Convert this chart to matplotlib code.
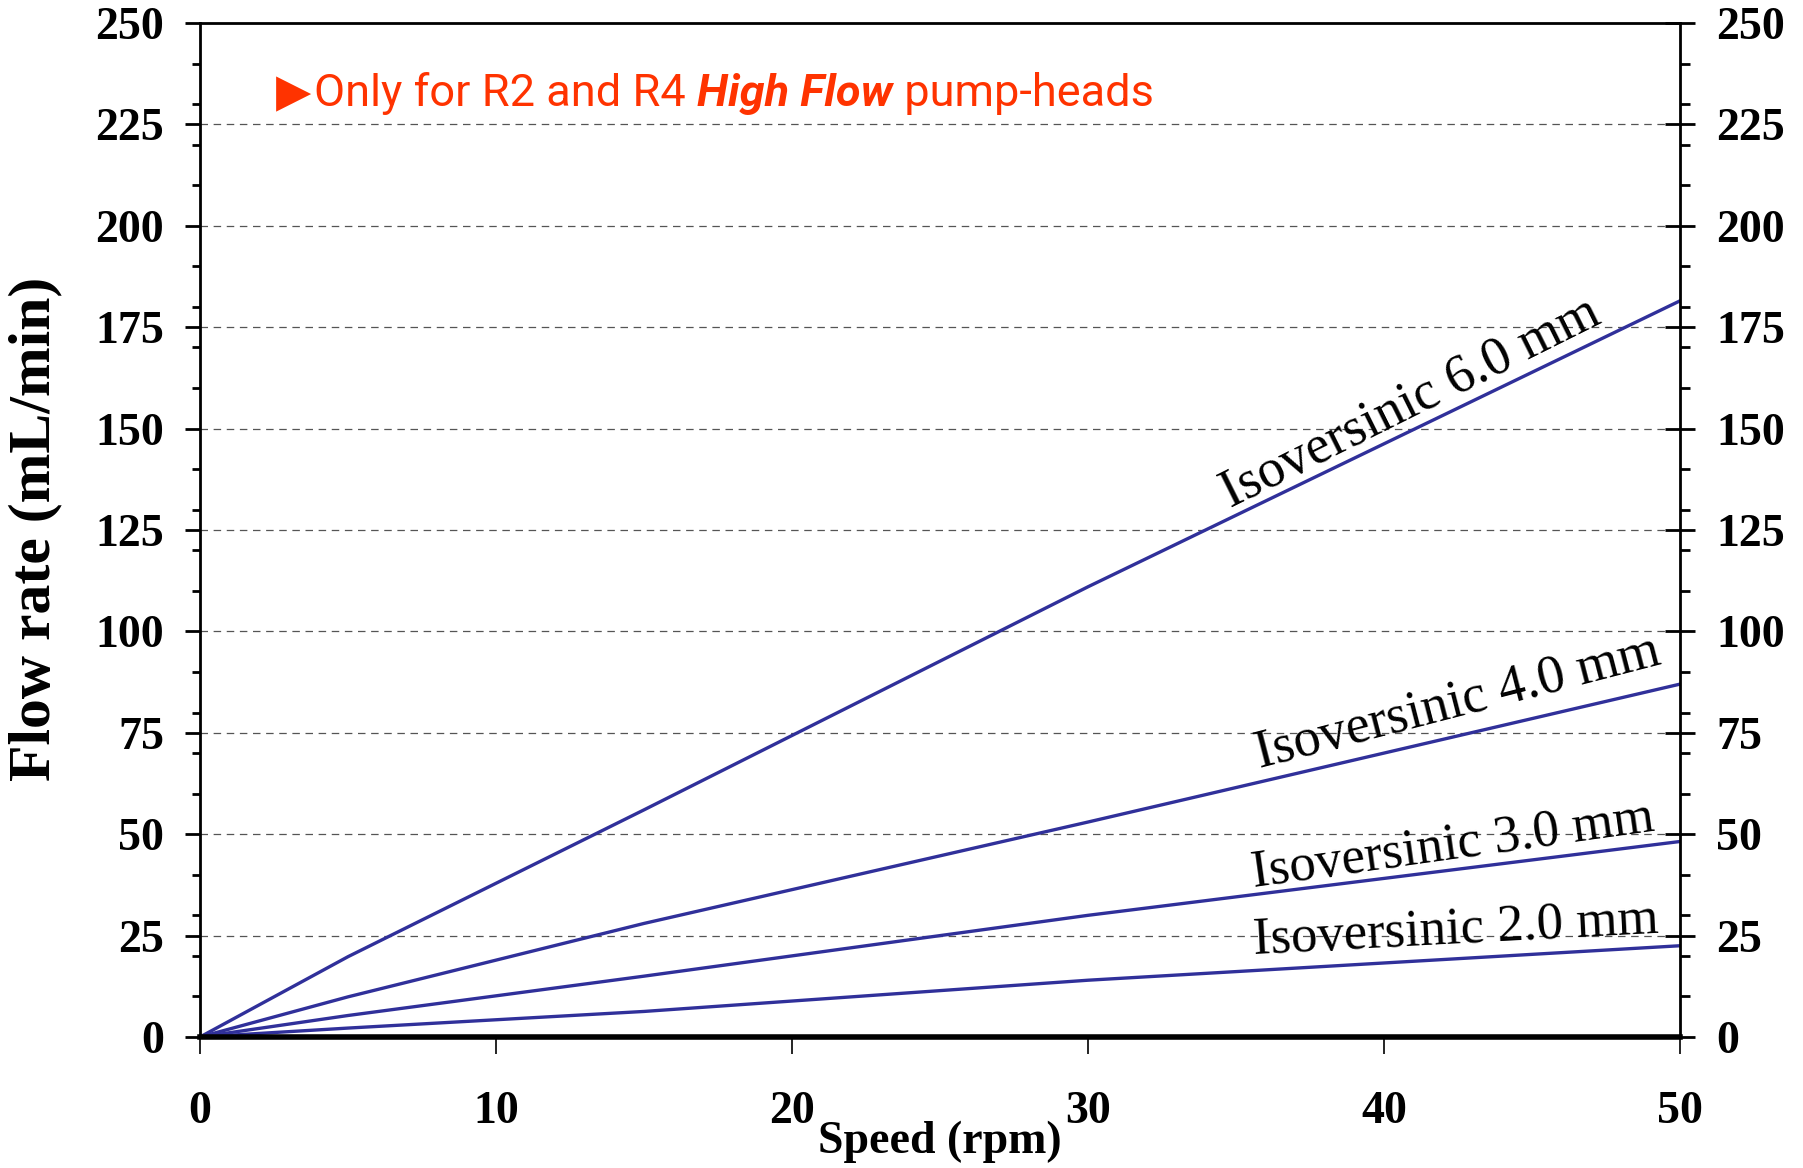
import matplotlib
matplotlib.use("Agg")
import matplotlib.pyplot as plt
from matplotlib.ticker import MultipleLocator

# ---- data ----
speed = [0, 5, 15, 30, 50]
flow_6mm = [0, 19.8, 56, 111, 181.5]
flow_4mm = [0, 9.9, 28, 53, 87]
flow_3mm = [0, 5.3, 15, 30, 48.2]
flow_2mm = [0, 2.2, 6.3, 14, 22.5]

series = [flow_6mm, flow_4mm, flow_3mm, flow_2mm]
labels = ["Isoversinic 6.0 mm", "Isoversinic 4.0 mm",
          "Isoversinic 3.0 mm", "Isoversinic 2.0 mm"]
label_pos = [(34.8, 130.5), (35.8, 66.3), (35.6, 37.0), (35.6, 20.5)]
label_rot = [26.5, 14.5, 8.0, 3.0]
label_size = [39, 39, 38, 38]

x_ticks = [0, 10, 20, 30, 40, 50]
y_ticks = [0, 25, 50, 75, 100, 125, 150, 175, 200, 225, 250]

W, H = 1803, 1168
fig = plt.figure(figsize=(W / 100, H / 100), dpi=100)
L, R, T, B = 200, 1680, 23, 1037
ax = fig.add_axes([L / W, 1 - B / H, (R - L) / W, (B - T) / H])

line_color = "#30309A"
for ys in series:
    ax.plot(speed, ys, color=line_color, lw=2.4, solid_joinstyle="round",
            zorder=3)

for txt, (px, py), rot, fs in zip(labels, label_pos, label_rot, label_size):
    ax.text(px, py, txt, rotation=rot, rotation_mode="anchor",
            ha="left", va="baseline", fontsize=fs,
            family="Liberation Serif", color="black", zorder=4)

ax.set_xlim(0, 50)
ax.set_ylim(0, 250)
ax.set_xticks(x_ticks)
ax.set_yticks(y_ticks)
ax.yaxis.set_minor_locator(MultipleLocator(10))

# grid at major y ticks (excluding 0 and 250)
for yv in y_ticks[1:-1]:
    ax.axhline(yv, color="#555555", lw=0.9, linestyle=(0, (6, 4.5)), zorder=0)

for side in ["left", "right", "top"]:
    ax.spines[side].set_linewidth(2.0)
ax.spines["bottom"].set_linewidth(4.0)
for sp in ax.spines.values():
    sp.set_zorder(5)

ax.tick_params(axis="x", which="major", direction="out", length=12, width=1.2,
               pad=27, labelsize=33)
ax.tick_params(axis="y", which="major", direction="out", length=11, width=2.0,
               pad=15, labelsize=33, left=True, right=False)
ax.tick_params(axis="y", which="minor", direction="out", length=6, width=2.0,
               left=True, right=False)
for lab in ax.get_xticklabels() + ax.get_yticklabels():
    lab.set_fontfamily("Liberation Serif")
    lab.set_fontweight("bold")

# right axis
ax2 = ax.twinx()
ax2.set_ylim(0, 250)
ax2.set_yticks(y_ticks)
ax2.yaxis.set_minor_locator(MultipleLocator(10))
ax2.tick_params(axis="y", which="major", direction="inout", length=22, width=2.0,
                pad=15, labelsize=33)
ax2.tick_params(axis="y", which="minor", direction="out", length=7, width=2.0)
for lab in ax2.get_yticklabels():
    lab.set_fontfamily("Liberation Serif")
    lab.set_fontweight("bold")
for sp in ax2.spines.values():
    sp.set_visible(False)

# axis titles
fig.text(940 / W, 1 - 1142 / H, "Speed (rpm)", ha="center", va="center",
         family="Liberation Serif", weight="bold", fontsize=33)
fig.text(35 / W, 1 - 529 / H, "Flow rate (mL/min)", ha="center", va="center",
         rotation=90, family="Liberation Serif", weight="bold", fontsize=43)

# annotation in red, mixed styles
red = "#FF3300"
fig.canvas.draw()
rend = fig.canvas.get_renderer()
x_px = 276
y_base = 1 - 106 / H
parts = [("\u25B6", dict(family=["DejaVu Sans"], fontsize=33)),
         ("Only for R2 and R4 ", dict(family=["Roboto", "DejaVu Sans"], fontsize=32.5)),
         ("High Flow", dict(family=["Roboto", "DejaVu Sans"], fontsize=32.5,
                            weight="bold", style="italic")),
         (" pump-heads", dict(family=["Roboto", "DejaVu Sans"], fontsize=32.5))]
for i, (s, kw) in enumerate(parts):
    t = fig.text(x_px / W, y_base, s, ha="left", va="baseline", color=red, **kw)
    bb = t.get_window_extent(rend)
    x_px += bb.width + (3 if i == 0 else 0)

fig.savefig("out.png", dpi=100)
